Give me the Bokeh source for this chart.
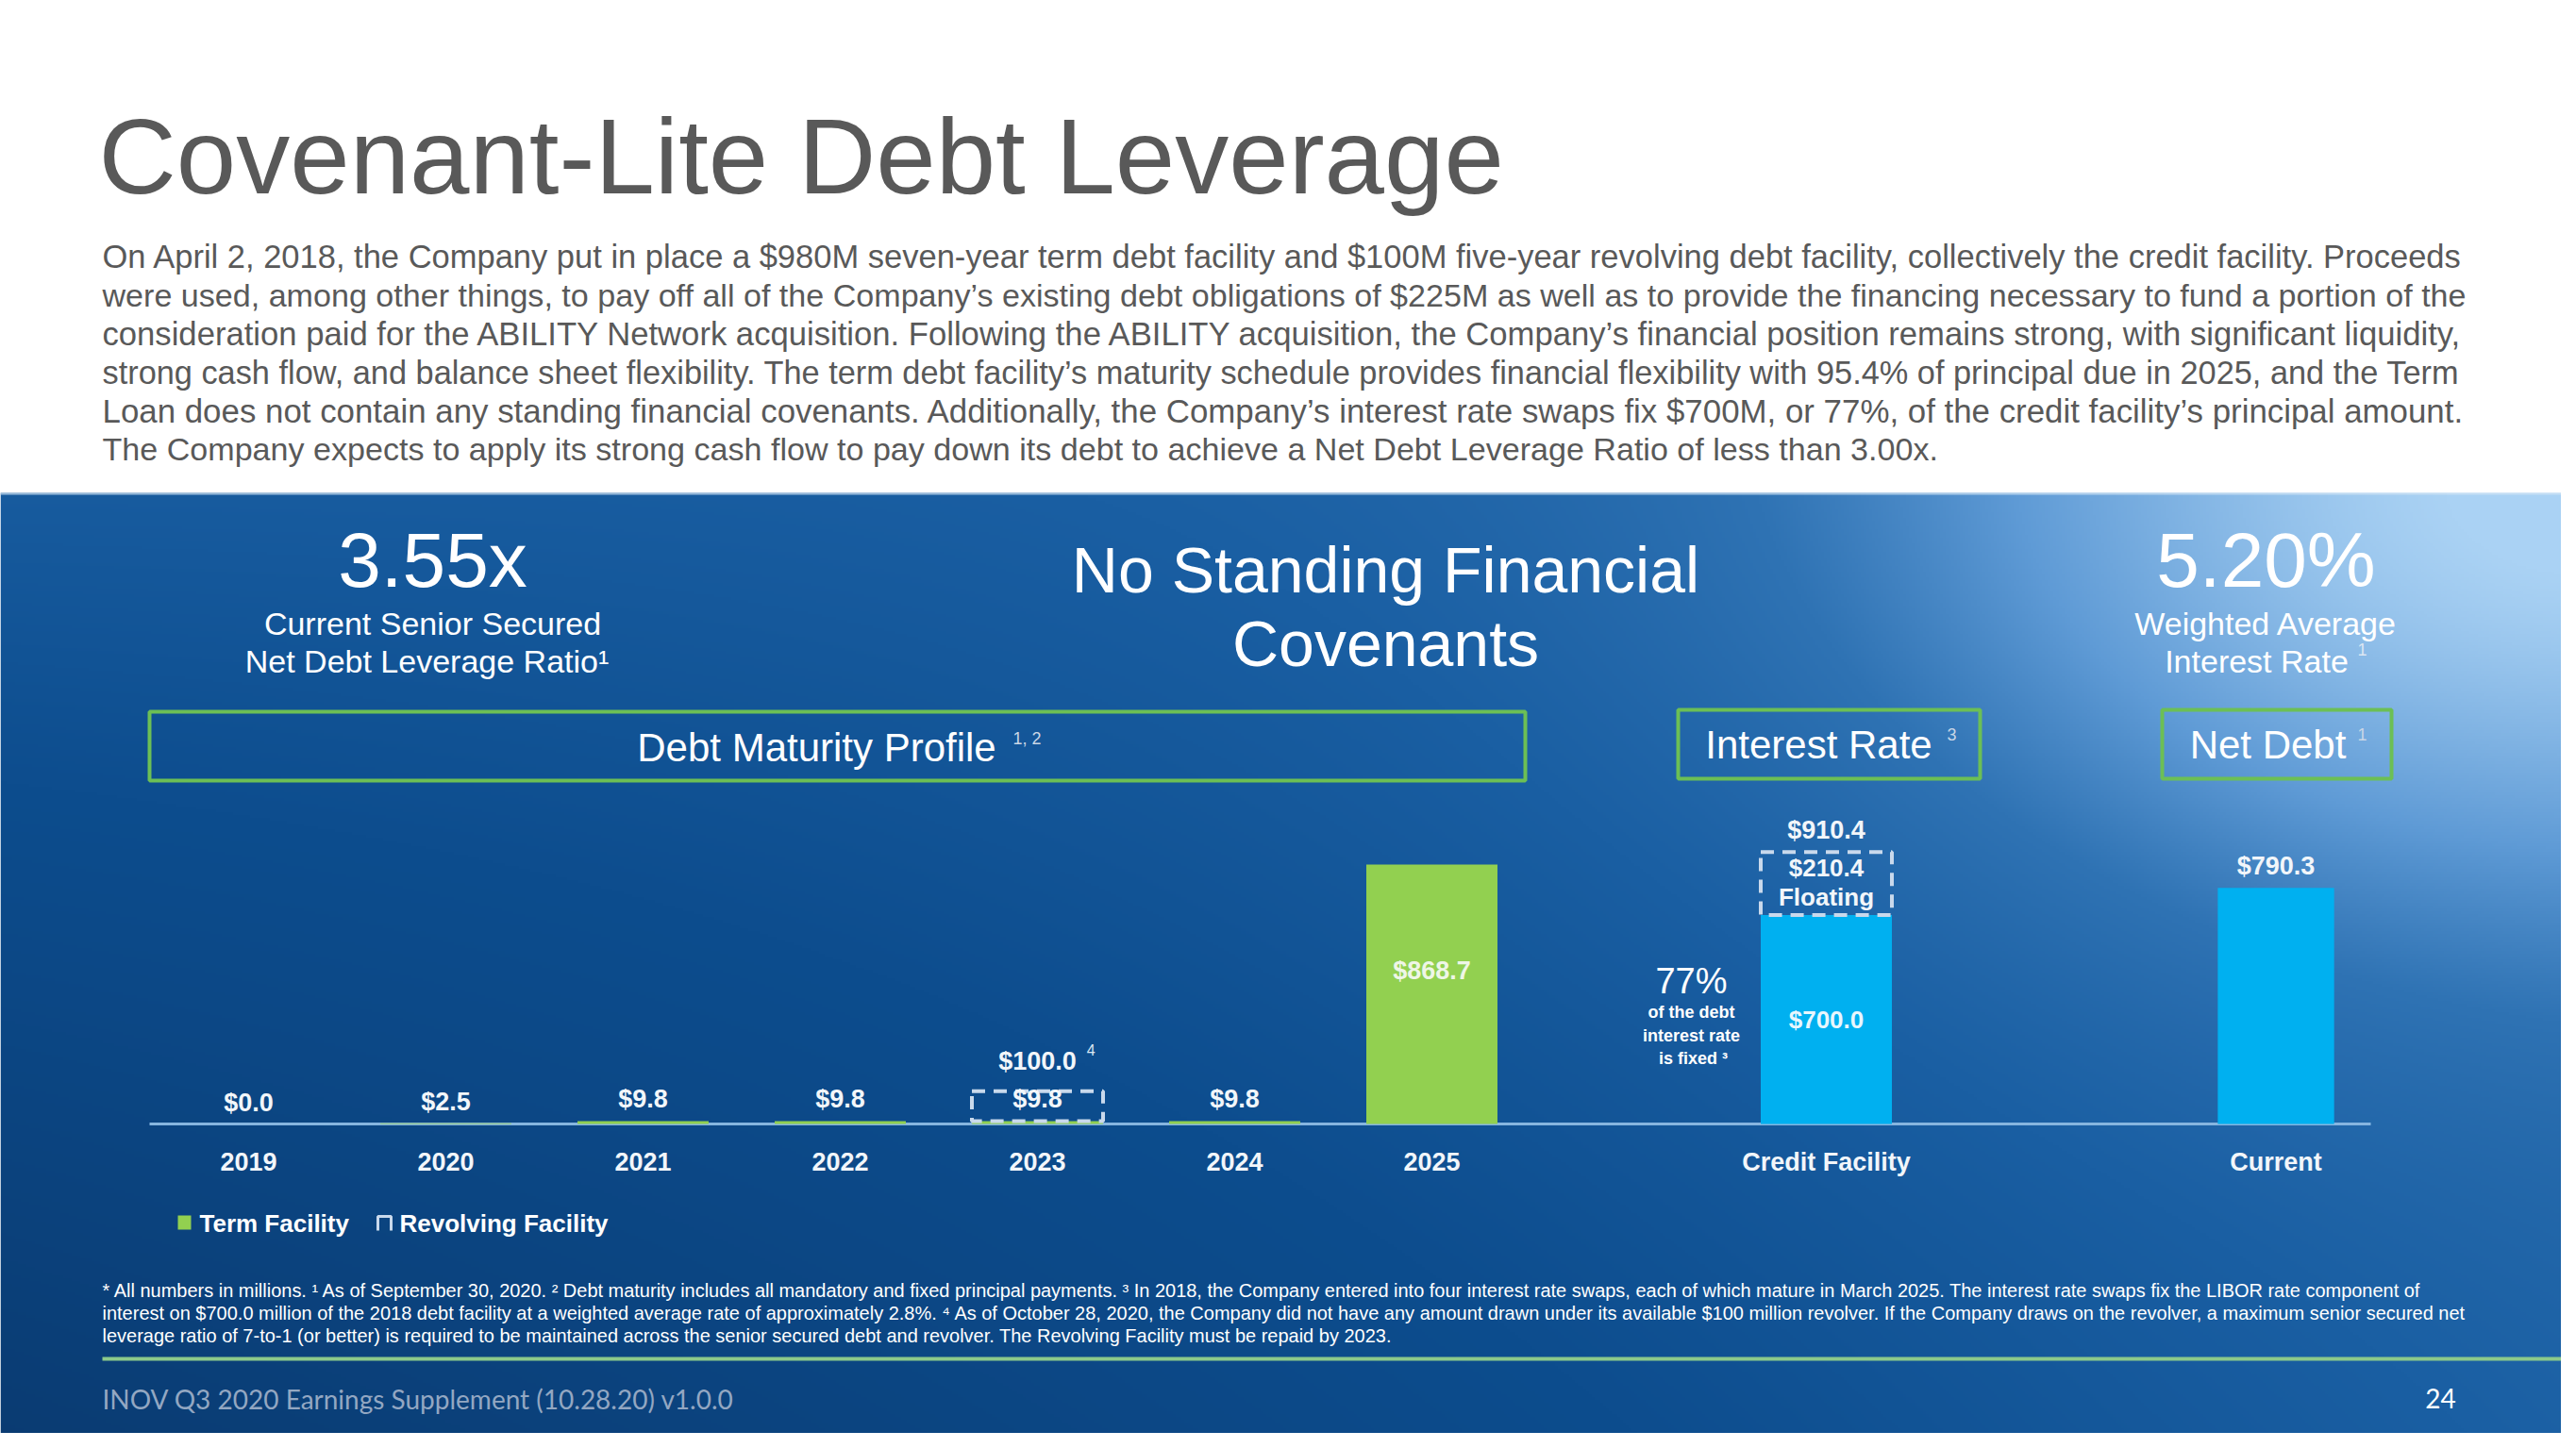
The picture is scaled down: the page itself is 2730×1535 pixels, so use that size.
import numpy as np
from bokeh.plotting import figure
from bokeh.models import Range1d, Label
from bokeh.core.properties import value
from bokeh.embed import file_html
from bokeh.resources import INLINE

# ---------------- data ----------------
years = ["2019", "2020", "2021", "2022", "2023", "2024", "2025"]
term_facility = [0.0, 2.5, 9.8, 9.8, 9.8, 9.8, 868.7]
revolving_facility = [0.0, 0.0, 0.0, 0.0, 100.0, 0.0, 0.0]
rate_category = "Credit Facility"
fixed_rate_debt = 700.0
floating_rate_debt = 210.4
fixed_share_pct = 77
net_debt_category = "Current"
net_debt = 790.3
leverage_ratio = 3.55
weighted_avg_rate = 5.20

title = "Covenant-Lite Debt Leverage"
paragraph = [
    "On April 2, 2018, the Company put in place a $980M seven-year term debt facility and $100M five-year revolving debt facility, collectively the credit facility. Proceeds",
    "were used, among other things, to pay off all of the Company\u2019s existing debt obligations of $225M as well as to provide the financing necessary to fund a portion of the",
    "consideration paid for the ABILITY Network acquisition. Following the ABILITY acquisition, the Company\u2019s financial position remains strong, with significant liquidity,",
    "strong cash flow, and balance sheet flexibility. The term debt facility\u2019s maturity schedule provides financial flexibility with 95.4% of principal due in 2025, and the Term",
    "Loan does not contain any standing financial covenants. Additionally, the Company\u2019s interest rate swaps fix $700M, or 77%, of the credit facility\u2019s principal amount.",
    "The Company expects to apply its strong cash flow to pay down its debt to achieve a Net Debt Leverage Ratio of less than 3.00x.",
]
footnotes = [
    "* All numbers in millions. \u00b9 As of September 30, 2020. \u00b2 Debt maturity includes all mandatory and fixed principal payments. \u00b3 In 2018, the Company entered into four interest rate swaps, each of which mature in March 2025. The interest rate swaps fix the LIBOR rate component of",
    "interest on $700.0 million of the 2018 debt facility at a weighted average rate of approximately 2.8%. \u2074 As of October 28, 2020, the Company did not have any amount drawn under its available $100 million revolver. If the Company draws on the revolver, a maximum senior secured net",
    "leverage ratio of 7-to-1 (or better) is required to be maintained across the senior secured debt and revolver. The Revolving Facility must be repaid by 2023.",
]
footer = "INOV Q3 2020 Earnings Supplement (10.28.20) v1.0.0"
page_no = "24"

# ---------------- layout (reference pixel geometry) ----------------
W_REF, H_REF = 2730, 1535
FIG_W, FIG_H = 2714, 1519
SLOT0_PX, SLOT_PX = 263, 209          # x of first category, spacing
BASE_PX, PX_PER_M = 1191, 0.3166      # baseline y (from top), px per $M
year_slots = list(range(len(years)))
rate_slot = 8.0
net_slot = 10.28
BAR_W = 0.665
NET_W = 0.59
FONT = "Liberation Sans"
GREEN = "#92d050"
CYAN = "#00b0f0"
BOX_GREEN = "#6cbf55"
DASH_COL = "#c9d9ec"


def Y(ry):
    return H_REF - ry


def px2val(px):
    return px / PX_PER_M


# Arial / Helvetica advance widths (per 1000 em) to size text lines
_chars = " !\"#$%&'()*+,-./0123456789:;<=>?@ABCDEFGHIJKLMNOPQRSTUVWXYZ[\\]^_`abcdefghijklmnopqrstuvwxyz"
_w = ([278, 278, 355, 556, 556, 889, 667, 191, 333, 333, 389, 584, 278, 333, 278, 278] + [556] * 10 +
      [278, 278, 584, 584, 584, 556, 1015] +
      [667, 667, 722, 722, 667, 611, 778, 722, 278, 500, 667, 556, 833, 722, 778, 667, 778, 722, 667, 611, 722, 667, 944, 667, 667, 611] +
      [278, 278, 278, 469, 556, 333] +
      [556, 556, 500, 556, 556, 278, 556, 556, 222, 222, 500, 222, 833, 556, 556, 556, 556, 333, 500, 278, 556, 500, 722, 500, 500, 500])
AW = dict(zip(_chars, _w))
AW.update({"\u2019": 222, "\u00b9": 333, "\u00b2": 333, "\u00b3": 333, "\u2074": 333})


def em(s):
    return sum(AW.get(c, 556) for c in s) / 1000.0


p = figure(width=FIG_W, height=FIG_H, x_range=Range1d(0, FIG_W), y_range=Range1d(H_REF - FIG_H, H_REF),
           output_backend="svg", toolbar_location=None, min_border=0)
p.axis.visible = False
p.grid.visible = False
p.outline_line_color = None
p.background_fill_color = "white"
p.border_fill_color = "white"
p.extra_x_ranges = {"slot": Range1d((0 - SLOT0_PX) / SLOT_PX, (FIG_W - SLOT0_PX) / SLOT_PX)}
p.extra_y_ranges = {"val": Range1d(px2val(H_REF - FIG_H - Y(BASE_PX)), px2val(H_REF - Y(BASE_PX)))}

# ---------------- blue gradient panel ----------------
PANEL_TOP = 522
GH, GW = 338, 910
rows = np.arange(GH)[:, None]
cols = np.arange(GW)[None, :]
u = (cols + 0.5) / GW
v = 1.0 - (rows + 0.5) / GH
b = (0.42 - 0.4 * v * (1 - u)
     + 0.45 * np.exp(-(((1 - u) / 0.25) ** 2 + (v / 0.42) ** 2))
     + 0.15 * np.exp(-(((1 - u) / 0.45) ** 2 + (v / 0.9) ** 2)))
b = np.clip(b, 0, 1)
stops = [0, 0.3, 0.45, 0.6, 0.75, 1.0]
Rs = [10, 13, 26, 47, 95, 170]
Gs = [58, 77, 95, 115, 155, 210]
Bs = [112, 142, 163, 180, 214, 244]
img = np.empty((GH, GW), dtype=np.uint32)
view = img.view(dtype=np.uint8).reshape((GH, GW, 4))
view[..., 0] = np.interp(b, stops, Rs).astype(np.uint8)
view[..., 1] = np.interp(b, stops, Gs).astype(np.uint8)
view[..., 2] = np.interp(b, stops, Bs).astype(np.uint8)
view[..., 3] = 255
p.image_rgba(image=[img], x=0, y=0, dw=W_REF, dh=H_REF - PANEL_TOP)
p.line(x=[0, W_REF], y=[Y(PANEL_TOP) - 1] * 2, line_color="#cfe2f3", line_width=2, line_alpha=0.7)


def lab(text, x, ry, size, color="#ffffff", align="center", baseline="middle", style="normal", font=FONT):
    if baseline == "alphabetic":       # place by text centre, derived from the baseline
        ry = ry - 0.35 * size
        baseline = "middle"
    p.add_layout(Label(x=x, y=Y(ry), text=text, text_font_size=f"{size}px", text_color=color,
                       text_align=align, text_baseline=baseline, text_font_style=style, text_font=font))


# ---------------- header texts ----------------
lab(title, 104, 205, 114, color="#595959", align="left", baseline="alphabetic")
for i, line in enumerate(paragraph):
    fs = 2507 / em(line) if i < 5 else 2507 / em(paragraph[1])
    lab(line, 108, 284 + 40.7 * i, round(fs, 2), color="#595959", align="left", baseline="alphabetic")

# ---------------- KPI texts ----------------
lab(f"{leverage_ratio:.2f}x", 458, 622, 82, baseline="alphabetic")
lab("Current Senior Secured", 458, 672, 34, baseline="alphabetic")
lab("Net Debt Leverage Ratio\u00b9", 452, 712, 34, baseline="alphabetic")
lab("No Standing Financial", 1468, 627, 68, baseline="alphabetic")
lab("Covenants", 1468, 705, 68, baseline="alphabetic")
lab(f"{weighted_avg_rate:.2f}%", 2401, 622, 82, baseline="alphabetic")
lab("Weighted Average", 2401, 672, 34, baseline="alphabetic")
lab("Interest Rate", 2391, 712, 34, baseline="alphabetic")
lab("1", 2503, 688, 18, color="#dbe6f2")

# ---------------- section boxes ----------------
boxes = [(158, 1616, 754, 827), (1778, 2098, 752, 825), (2291, 2534, 752, 825)]
p.quad(left=[bx[0] for bx in boxes], right=[bx[1] for bx in boxes],
       top=[Y(bx[2]) for bx in boxes], bottom=[Y(bx[3]) for bx in boxes],
       fill_alpha=0, line_color=BOX_GREEN, line_width=4)
lab("Debt Maturity Profile", 865, 792, 42)
lab("1, 2", 1088, 782, 18, color="#c9d6e6")
lab("Interest Rate", 1927, 789, 42)
lab("3", 2068, 778, 18, color="#c9d6e6")
lab("Net Debt", 2403, 789, 42)
lab("1", 2503, 778, 18, color="#c9d6e6")

# ---------------- chart baseline ----------------
p.line(x=[158, 2512], y=[Y(BASE_PX)] * 2, line_color="#86b5df", line_width=3)

# ---------------- Debt maturity bars ----------------
p.vbar(x=year_slots, width=BAR_W, bottom=0, top=term_facility, x_range_name="slot", y_range_name="val",
       fill_color=GREEN, line_color=None)
rv_x = [s for s, r in zip(year_slots, revolving_facility) if r > 0]
rv_b = [t for t, r in zip(term_facility, revolving_facility) if r > 0]
rv_t = [t + r for t, r in zip(term_facility, revolving_facility) if r > 0]
p.vbar(x=rv_x, width=BAR_W, bottom=rv_b, top=rv_t, x_range_name="slot", y_range_name="val",
       fill_alpha=0, line_color=DASH_COL, line_width=4, line_dash="14 9")

# value labels above small bars
small_i = [i for i, t in enumerate(term_facility) if t < 100]
p.text(x=[year_slots[i] for i in small_i], y=[term_facility[i] + px2val(8) for i in small_i],
       text=[f"${term_facility[i]:.1f}" for i in small_i], x_range_name="slot", y_range_name="val",
       text_font=value(FONT), text_font_size="27px", text_font_style="bold", text_color="#f2f6fa",
       text_align="center", text_baseline="bottom")
big_i = [i for i, t in enumerate(term_facility) if t >= 100]
p.text(x=[year_slots[i] for i in big_i], y=[term_facility[i] * 0.59 for i in big_i],
       text=[f"${term_facility[i]:.1f}" for i in big_i], x_range_name="slot", y_range_name="val",
       text_font=value(FONT), text_font_size="27px", text_font_style="bold", text_color="#eef6e6",
       text_align="center", text_baseline="middle")
p.text(x=rv_x, y=[t + px2val(17) for t in rv_t], text=[f"${r:.1f}" for r in revolving_facility if r > 0],
       x_range_name="slot", y_range_name="val", text_font=value(FONT), text_font_size="27px",
       text_font_style="bold", text_color="#f2f6fa", text_align="center", text_baseline="bottom")
p.text(x=[s + 0.25 for s in rv_x], y=[t + px2val(44) for t in rv_t], text=["4"] * len(rv_x),
       x_range_name="slot", y_range_name="val", text_font=value(FONT), text_font_size="16px",
       text_color="#dbe6f2", text_align="left", text_baseline="middle")

# ---------------- Interest rate (credit facility) ----------------
total_cf = fixed_rate_debt + floating_rate_debt
p.vbar(x=[rate_slot], width=BAR_W, bottom=0, top=[fixed_rate_debt], x_range_name="slot", y_range_name="val",
       fill_color=CYAN, line_color=None)
p.vbar(x=[rate_slot], width=BAR_W, bottom=[fixed_rate_debt], top=[total_cf], x_range_name="slot",
       y_range_name="val", fill_alpha=0, line_color=DASH_COL, line_width=4, line_dash="14 9")
p.text(x=[rate_slot], y=[fixed_rate_debt * 0.5], text=[f"${fixed_rate_debt:.1f}"], x_range_name="slot",
       y_range_name="val", text_font=value(FONT), text_font_size="26px", text_font_style="bold",
       text_color="#e8f6fd", text_align="center", text_baseline="middle")
mid_f = fixed_rate_debt + floating_rate_debt / 2
p.text(x=[rate_slot, rate_slot], y=[mid_f + px2val(17), mid_f - px2val(14)],
       text=[f"${floating_rate_debt:.1f}", "Floating"], x_range_name="slot", y_range_name="val",
       text_font=value(FONT), text_font_size="26px", text_font_style="bold", text_color="#f2f6fa",
       text_align="center", text_baseline="middle")
p.text(x=[rate_slot], y=[total_cf + px2val(8)], text=[f"${total_cf:.1f}"], x_range_name="slot",
       y_range_name="val", text_font=value(FONT), text_font_size="27px", text_font_style="bold",
       text_color="#f2f6fa", text_align="center", text_baseline="bottom")
lab(f"{fixed_share_pct}%", 1792, 1053, 38, baseline="alphabetic")
lab("of the debt", 1792, 1079, 18, baseline="alphabetic", style="bold")
lab("interest rate", 1792, 1104, 18, baseline="alphabetic", style="bold")
lab("is fixed \u00b3", 1794, 1128, 18, baseline="alphabetic", style="bold")

# ---------------- Net debt ----------------
p.vbar(x=[net_slot], width=NET_W, bottom=0, top=[net_debt], x_range_name="slot", y_range_name="val",
       fill_color=CYAN, line_color=None)
p.text(x=[net_slot], y=[net_debt + px2val(8)], text=[f"${net_debt:.1f}"], x_range_name="slot",
       y_range_name="val", text_font=value(FONT), text_font_size="27px", text_font_style="bold",
       text_color="#f2f6fa", text_align="center", text_baseline="bottom")

# ---------------- category labels ----------------
cats = years + [rate_category, net_debt_category]
slots = year_slots + [rate_slot, net_slot]
p.text(x=slots, y=[Y(1231)] * len(cats), text=cats, x_range_name="slot",
       text_font=value(FONT), text_font_size="27px", text_font_style="bold", text_color="#f2f6fa",
       text_align="center", text_baseline="middle")

# ---------------- legend ----------------
p.quad(left=[188], right=[202], top=[Y(1288)], bottom=[Y(1303)], fill_color=GREEN, line_color=None)
lab("Term Facility", 211, 1296, 26, align="left", style="bold")
p.line(x=[400, 400, 414, 414], y=[Y(1304), Y(1289), Y(1289), Y(1304)], line_color=DASH_COL, line_width=3)
lab("Revolving Facility", 423, 1296, 26, align="left", style="bold")

# ---------------- footnotes / footer ----------------
foot_targets = [2460, 2505]
for i, line in enumerate(footnotes):
    fs = foot_targets[i] / em(line) if i < 2 else 2505 / em(footnotes[1])
    lab(line, 108, 1367 + 24.4 * i, round(fs, 2), align="left")
p.line(x=[108, W_REF], y=[Y(1440)] * 2, line_color="#8cc98a", line_width=4)
lab(footer, 108, 1482, 28, color="#93a7c2", align="left", font="Lato")
lab(page_no, 2586, 1482, 28, color="#ffffff", font="Lato")

open("out.html", "w").write(file_html(p, INLINE))
